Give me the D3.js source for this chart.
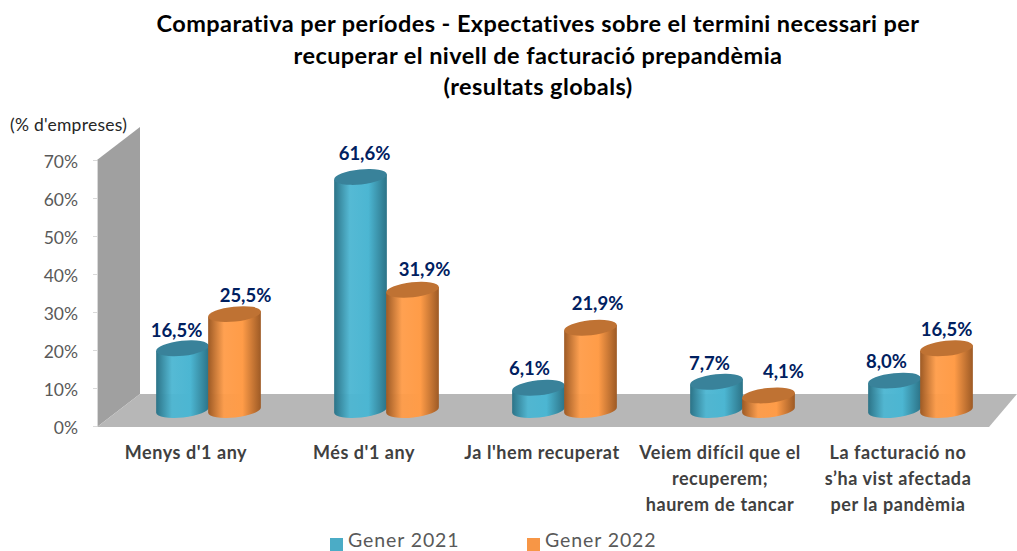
<!DOCTYPE html>
<html lang="ca">
<head>
  <meta charset="UTF-8">
  <title>Comparativa per períodes</title>
  <script src="https://d3js.org/d3.v7.min.js" charset="utf-8"></script>
  <style>
    html, body { margin: 0; padding: 0; background: #fff; overflow: hidden; }
    text { font-family: Lato, "Open Sans", sans-serif; }
  </style>
</head>
<body>
  <div id="wrapper"></div>
  <script>
    const categories = [
      ["Menys d'1 any"],
      ["Més d'1 any"],
      ["Ja l'hem recuperat"],
      ["Veiem difícil que el", "recuperem;", "haurem de tancar"],
      ["La facturació no", "s’ha vist afectada", "per la pandèmia"],
    ]
    const seriesNames = ['Gener 2021', 'Gener 2022']
    const gener2021 = [16.5, 61.6, 6.1, 7.7, 8.0]
    const gener2022 = [25.5, 31.9, 21.9, 4.1, 16.5]
    const yTicks = [0, 10, 20, 30, 40, 50, 60, 70]
    const titleLines = [
      'Comparativa per períodes - Expectatives sobre el termini necessari per',
      'recuperar el nivell de facturació prepandèmia',
      '(resultats globals)',
    ]

    // label positions were moved by hand in the original
    const labelNudge2021 = [[-6, 2], [4, -4], [-9, 0], [-7, 1], [-8, 0]]
    const labelNudge2022 = [[11, 1], [12, -1], [7, -5], [15, -4], [0, 1]]

    const width = 1017
    const height = 551
    const depth = { x: 43, y: -33 }
    const barShift = { x: 22.5, y: -15 }

    const svg = d3.select('#wrapper')
      .append('svg')
        .attr('width', width)
        .attr('height', height)
        .style('display', 'block')

    const yScale = d3.scaleLinear().domain([0, 70]).range([426, 160])
    const xScale = d3.scaleBand().domain(d3.range(categories.length)).range([97, 987])
    const seriesScale = d3.scaleBand().domain([0, 1]).range([-52, 52])

    // gradients for the cylinders
    const defs = svg.append('defs')
    const palette = [
      { edge: '#2c7387', mid: '#4cb6d2', top: '#39829a', swatch: '#4bacc6' },
      { edge: '#9d5a25', mid: '#ff9c48', top: '#bf7233', swatch: '#f79646' },
    ]
    palette.forEach((p, i) => {
      const grad = defs.append('linearGradient').attr('id', `cyl${i}`)
      grad.append('stop').attr('offset', '0%').attr('stop-color', p.edge)
      grad.append('stop').attr('offset', '30%').attr('stop-color', p.mid).attr('stop-opacity', 0.95)
      grad.append('stop').attr('offset', '65%').attr('stop-color', p.mid)
      grad.append('stop').attr('offset', '100%').attr('stop-color', p.edge)
    })

    // back wall and floor
    const y0 = yScale(0) + 1
    const yTop = yScale(70)
    svg.append('path')
      .attr('d', `M97,${yTop}L${97 + depth.x},${yTop + depth.y}V${y0 + depth.y}L97,${y0}Z`)
      .attr('fill', '#a0a0a0')
    svg.append('path')
      .attr('d', `M97,${y0}L${97 + depth.x},${y0 + depth.y}H${width}L${989},${y0}Z`)
      .attr('fill', '#b7b7b7')

    // y axis
    const yAxis = svg.append('g')
      .attr('transform', 'translate(97,0)')
      .call(d3.axisLeft(yScale).tickValues(yTicks).tickFormat(d => `${d}%`).tickSize(4).tickPadding(15))
    yAxis.select('.domain').attr('stroke', '#d9d9d9')
    yAxis.selectAll('.tick line').attr('stroke', '#d9d9d9')
    yAxis.selectAll('.tick text')
      .attr('fill', '#595959')
      .attr('dy', '0.42em')
      .style('font-size', '17.5px')

    svg.append('text')
      .attr('x', 10)
      .attr('y', 131)
      .attr('fill', '#262626')
      .style('font-size', '17.5px')
      .style('letter-spacing', '0.25px')
      .text("(% d'empreses)")

    // cylinders
    const tilt = -6
    const ry = 7.5
    const rad = Math.abs(tilt) * Math.PI / 180
    const rim = (cx, cy, rx, side) => [cx + side * rx * Math.cos(rad), cy - side * rx * Math.sin(rad)]

    const drawSeries = (values, s) => {
      const group = svg.append('g')
      values.forEach((v, i) => {
        const cx = xScale(i) + xScale.bandwidth() / 2 + barShift.x + seriesScale(s) + seriesScale.bandwidth() / 2
        const rx = 26.5
        const top = yScale(v) + barShift.y
        const base = yScale(0) + barShift.y - 1
        const [lx, ly] = rim(cx, 0, rx, -1)
        const [rxp, ry0] = rim(cx, 0, rx, 1)
        group.append('path')
          .attr('d', `M${lx},${top + ly}L${lx},${base + ly}A${rx},${ry} ${tilt} 0 0 ${rxp},${base + ry0}L${rxp},${top + ry0}Z`)
          .attr('fill', `url(#cyl${s})`)
        group.append('ellipse')
          .attr('transform', `translate(${cx},${top}) rotate(${tilt})`)
          .attr('rx', rx)
          .attr('ry', ry)
          .attr('fill', palette[s].top)
      })
    }
    drawSeries(gener2021, 0)
    drawSeries(gener2022, 1)

    // data labels
    const drawLabels = (values, s, nudge) => {
      svg.append('g').selectAll('text')
        .data(values)
        .join('text')
          .attr('x', (d, i) => xScale(i) + xScale.bandwidth() / 2 + barShift.x + seriesScale(s) + seriesScale.bandwidth() / 2 + nudge[i][0])
          .attr('y', (d, i) => yScale(d) + barShift.y - 13 + nudge[i][1])
          .attr('text-anchor', 'middle')
          .attr('fill', '#002060')
          .style('font-size', '18.5px')
          .style('font-weight', 700)
          .text(d => `${d.toFixed(1).replace('.', ',')}%`)
    }
    drawLabels(gener2021, 0, labelNudge2021)
    drawLabels(gener2022, 1, labelNudge2022)

    // category labels
    const catGroup = svg.append('g')
    categories.forEach((lines, i) => {
      lines.forEach((line, j) => {
        catGroup.append('text')
          .attr('x', xScale(i) + xScale.bandwidth() / 2)
          .attr('y', 459 + j * 26)
          .attr('text-anchor', 'middle')
          .attr('fill', '#404040')
          .style('font-size', '18px')
          .style('letter-spacing', '0.55px')
          .style('font-weight', 700)
          .text(line)
      })
    })

    // title
    svg.append('g').selectAll('text')
      .data(titleLines)
      .join('text')
        .attr('x', 538)
        .attr('y', (d, i) => 32 + i * 31.5)
        .attr('text-anchor', 'middle')
        .attr('fill', '#000')
        .style('font-size', '23.5px')
        .style('letter-spacing', '0.42px')
        .style('font-weight', 700)
        .text(d => d)

    // legend
    const legendX = [330, 527]
    seriesNames.forEach((name, i) => {
      svg.append('rect')
        .attr('x', legendX[i])
        .attr('y', 538)
        .attr('width', 13)
        .attr('height', 13)
        .attr('fill', palette[i].swatch)
      svg.append('text')
        .attr('x', legendX[i] + 18)
        .attr('y', 547)
        .attr('fill', '#595959')
        .style('font-size', '19.5px')
        .style('letter-spacing', '0.9px')
        .text(name)
    })
  </script>
</body>
</html>
